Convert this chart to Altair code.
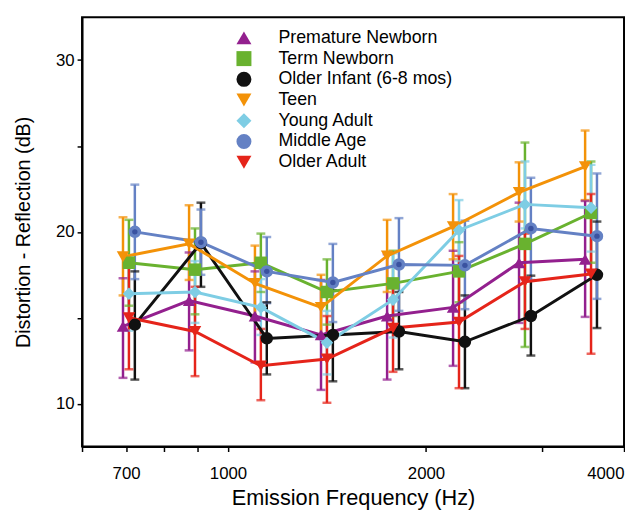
import altair as alt
import pandas as pd

# ---- data ----
freqs = [707, 891, 1122, 1414, 1782, 2245, 2828, 3564]
series = ["Premature Newborn", "Term Newborn", "Older Infant (6-8 mos)", "Teen",
          "Young Adult", "Middle Age", "Older Adult"]

mean_premature = [14.5, 16.0, 15.1, 14.0, 15.1, 15.6, 18.2, 18.4]
lo_premature = [11.5, 13.1, 12.4, 10.8, 11.4, 12.2, 14.7, 15.05]
hi_premature = [17.3, 18.8, 17.7, 17.2, 18.7, 18.9, 21.7, 21.8]

mean_term = [18.2, 17.8, 18.2, 16.5, 17.0, 17.7, 19.3, 21.1]
lo_term = [15.7, 15.2, 16.5, 14.6, 15.1, 15.9, 13.3, 18.2]
hi_term = [20.7, 20.2, 19.9, 18.4, 18.9, 19.4, 25.2, 24.1]

mean_infant = [14.6, 19.35, 13.8, 14.0, 14.2, 13.6, 15.1, 17.5]
lo_infant = [11.4, 16.8, 11.7, 11.3, 12.0, 10.9, 12.8, 14.4]
hi_infant = [17.7, 21.7, 15.9, 16.6, 16.5, 16.3, 17.45, 20.6]

mean_teen = [18.55, 19.3, 17.0, 15.6, 18.6, 20.3, 22.3, 23.8]
lo_teen = [16.3, 17.2, 15.0, 14.0, 16.5, 18.4, 20.6, 21.85]
hi_teen = [20.85, 21.55, 19.2, 17.5, 20.7, 22.2, 24.05, 25.9]

mean_young = [16.4, 16.5, 15.6, 13.55, 16.05, 20.1, 21.6, 21.4]
lo_young = [14.25, 14.7, 14.0, 11.7, 13.85, 18.3, 20.2, 18.85]
hi_young = [18.55, 18.3, 17.25, 15.4, 18.75, 21.85, 24.1, 23.9]

mean_middle = [20.0, 19.4, 17.7, 17.05, 18.1, 18.05, 20.2, 19.75]
lo_middle = [17.25, 17.5, 15.85, 14.75, 15.4, 15.5, 17.2, 16.1]
hi_middle = [22.75, 21.3, 19.7, 19.3, 20.8, 20.65, 23.15, 23.4]

mean_older = [15.0, 14.2, 12.2, 12.6, 14.4, 14.75, 17.1, 17.55]
lo_older = [12.0, 11.6, 10.2, 10.05, 11.85, 10.9, 14.35, 12.9]
hi_older = [18.05, 16.8, 14.35, 15.1, 16.95, 18.6, 19.9, 22.2]

x_tick_values = [600, 700, 800, 900, 1000, 2000, 3000, 4000]
y_tick_values = [10, 15, 20, 25, 30]

# ---- style ----
colors = ["#93208E", "#69B22F", "#111111", "#F39208", "#7ECDE4", "#6481C4", "#E5241A"]
shapes = ["triangle-up", "square", "circle", "triangle-down", "diamond", "circle", "triangle-down"]
# small horizontal shift (in decades) so error bars do not overlap
shift = [-0.009, 0.0, 0.009, -0.009, 0.0, 0.009, 0.0]
FONT = "Liberation Sans"

all_means = [mean_premature, mean_term, mean_infant, mean_teen, mean_young, mean_middle, mean_older]
all_lo = [lo_premature, lo_term, lo_infant, lo_teen, lo_young, lo_middle, lo_older]
all_hi = [hi_premature, hi_term, hi_infant, hi_teen, hi_young, hi_middle, hi_older]

rows = []
for i, s in enumerate(series):
    for j, f in enumerate(freqs):
        rows.append({"series": s, "freq": f * 10 ** shift[i],
                     "mean": all_means[i][j], "lo": all_lo[i][j], "hi": all_hi[i][j]})
df = pd.DataFrame(rows)

xs = alt.X("freq:Q", scale=alt.Scale(type="log", domain=[600, 4000], nice=False),
           axis=alt.Axis(values=x_tick_values, title="Emission Frequency (Hz)",
                         labelExpr="(datum.value == 700 || datum.value == 1000 || datum.value == 2000 || datum.value == 4000) ? format(datum.value, 'd') : ''",
                         labelPadding=14, titlePadding=7, titleFontSize=22))
yscale = alt.Scale(domain=[7.5, 32.5], nice=False, zero=False)
legend = alt.Legend(orient="none", legendX=155, legendY=12, title=None,
                    labelFontSize=18, labelFont=FONT, labelColor="black", labelLimit=400,
                    symbolSize=230, rowPadding=3, labelOffset=26,
                    symbolStrokeWidth=0, symbolOpacity=1)
color = alt.Color("series:N", scale=alt.Scale(domain=series, range=colors), legend=legend)
shape = alt.Shape("series:N", scale=alt.Scale(domain=series, range=shapes), legend=legend)

base = alt.Chart(df)

rules = base.mark_rule(strokeWidth=2.5).encode(
    x=xs,
    y=alt.Y("lo:Q", scale=yscale, axis=alt.Axis(values=y_tick_values, title="Distortion - Reflection (dB)",
                                                 labelExpr="datum.value % 10 == 0 ? datum.label : ''",
                                                 titlePadding=22)),
    y2="hi:Q", color=color)
cap_lo = base.mark_tick(orient="horizontal", size=9, thickness=2.5).encode(
    x=xs, y=alt.Y("lo:Q", scale=yscale), color=color)
cap_hi = base.mark_tick(orient="horizontal", size=9, thickness=2.5).encode(
    x=xs, y=alt.Y("hi:Q", scale=yscale), color=color)
lines = base.mark_line(strokeWidth=3).encode(
    x=xs, y=alt.Y("mean:Q", scale=yscale), color=color, detail="series:N")
points = base.mark_point(filled=True, opacity=1, size=160, strokeWidth=0).encode(
    x=xs, y=alt.Y("mean:Q", scale=yscale), color=color, shape=shape)
inner = base.transform_filter(alt.datum.series == "Middle Age").mark_circle(
    size=30, color="#3A52A0", opacity=1).encode(x=xs, y=alt.Y("mean:Q", scale=yscale))

chart = alt.layer(rules, cap_lo, cap_hi, lines, points, inner).properties(
    width=549, height=435,
    autosize=alt.AutoSizeParams(type="none"),
    padding={"left": 75, "top": 6, "right": 1, "bottom": 63},
).configure_view(stroke="black", strokeWidth=2).configure_axis(
    grid=False, labelFont=FONT, titleFont=FONT, labelFontSize=17, titleFontSize=20,
    titleFontWeight="normal", labelColor="black", titleColor="black",
    domainColor="black", domainWidth=2, tickColor="black", tickWidth=1.5, tickSize=5,
    labelPadding=3,
)

chart.save("out.html", embed_options={"renderer": "svg", "actions": False})
